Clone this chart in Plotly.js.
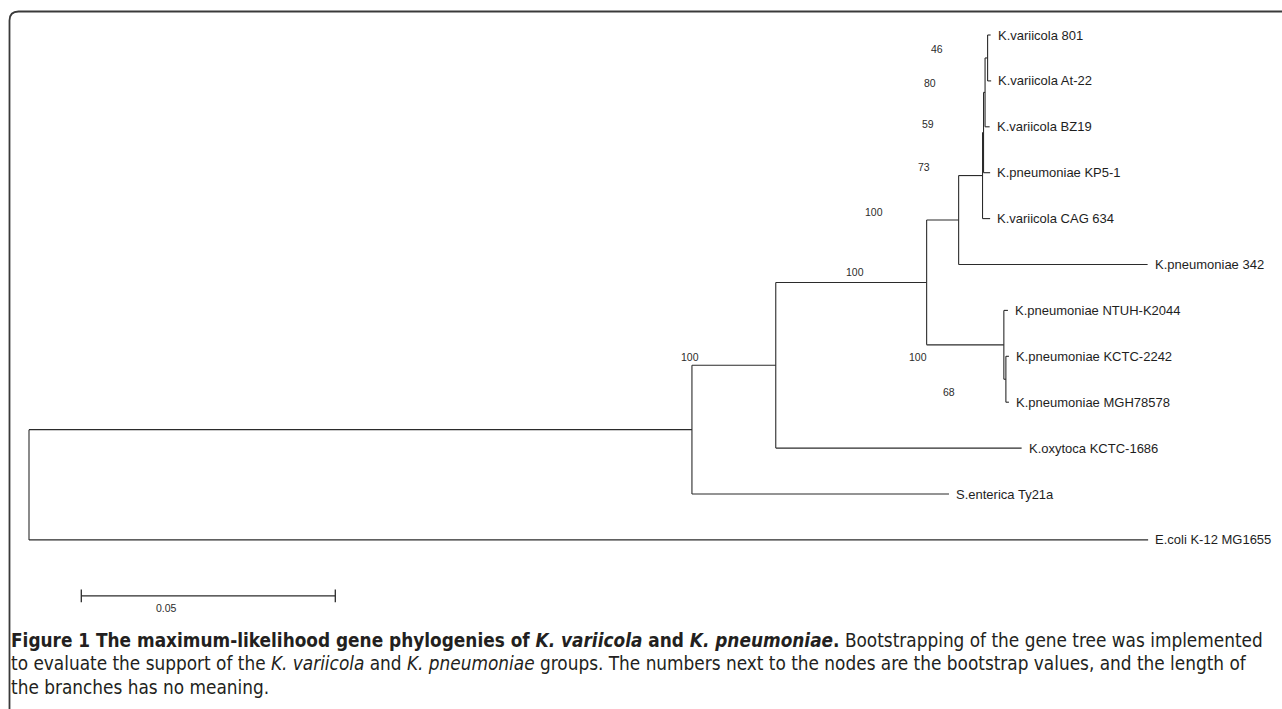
<!DOCTYPE html>
<html>
<head>
<meta charset="utf-8">
<script src="https://cdn.plot.ly/plotly-3.0.1.min.js"></script>
<style>
  html, body { margin: 0; padding: 0; background: #ffffff; }
  #chart { width: 1282px; height: 709px; }
</style>
</head>
<body>
<div id="chart"></div>
<script>
// ---------------- DATA ----------------
// Tree nodes (children listed top-to-bottom by index order)
const nodeLabel = [
  '', '', 'E.coli K-12 MG1655', '', 'S.enterica Ty21a', '', 'K.oxytoca KCTC-1686',
  '', '', '', 'K.pneumoniae 342', '', 'K.variicola CAG 634', '', 'K.pneumoniae KP5-1',
  '', 'K.variicola BZ19', 'K.variicola 801', 'K.variicola At-22',
  'K.pneumoniae NTUH-K2044', '', 'K.pneumoniae KCTC-2242', 'K.pneumoniae MGH78578'
];
const nodeParent = [
  -1, 0, 0, 1, 1, 3, 3, 5, 5, 7, 7, 9, 9, 11, 11, 13, 13, 15, 15, 8, 8, 20, 20
];
const branchLength = [
  0, 0.1305, 0.2203, 0.0165, 0.0506, 0.0297, 0.0484, 0.0063, 0.0152, 0.0047, 0.0372,
  0.0002, 0.0015, 0.0003, 0.0013, 0.0005, 0.0009, 0.0006, 0.0007, 0.0008, 0.0004, 0.0006, 0.0006
];
const bootstrapValue = [
  null, null, null, 100, null, 100, null, 100, 100, 73, null,
  59, null, 80, null, 46, null, null, null, null, 68, null, null
];
const scaleBarLength = 0.05;
const scaleBarLabel = '0.05';

const captionLines = [
  '<b>Figure 1 The maximum-likelihood gene phylogenies of <i>K. variicola</i> and <i>K. pneumoniae</i>.</b> Bootstrapping of the gene tree was implemented',
  'to evaluate the support of the <i>K. variicola</i> and <i>K. pneumoniae</i> groups. The numbers next to the nodes are the bootstrap values, and the length of',
  'the branches has no meaning.'
];

// ---------------- LAYOUT CONSTANTS (pixels / styling) ----------------
const W = 1282, H = 709;
const PX_PER_UNIT = 5080;      // horizontal scale
const ROOT_PX = 29;            // x pixel of root
const ROW0_PX = 35, ROW_PX = 45.9;
// bootstrap label offsets (px) relative to node
const bsOffset = {3:[-86,-8], 5:[-72,-10], 7:[-85,-8], 8:[-86,12], 9:[-59,-9],
                  11:[-56,-9], 13:[-55,-9], 15:[-51,-9], 20:[-57,13]};

// ---------------- BUILD TREE GEOMETRY ----------------
const n = nodeLabel.length;
const children = Array.from({length:n}, () => []);
for (let i = 1; i < n; i++) children[nodeParent[i]].push(i);
const xPos = new Array(n).fill(0);
const yPos = new Array(n).fill(0);
let leafCounter = 0;
function walk(i, d) {
  xPos[i] = d;
  if (children[i].length === 0) { yPos[i] = leafCounter++; return; }
  children[i].forEach(c => walk(c, d + branchLength[c]));
  const ch = children[i];
  yPos[i] = (yPos[ch[0]] + yPos[ch[ch.length-1]]) / 2;
}
walk(0, 0);
const nLeaves = leafCounter;

const lx = [], ly = [];
for (let i = 1; i < n; i++) {
  const p = nodeParent[i];
  lx.push(xPos[p], xPos[i], null); ly.push(yPos[i], yPos[i], null);
}
for (let i = 0; i < n; i++) {
  const ch = children[i];
  if (ch.length) {
    lx.push(xPos[i], xPos[i], null);
    ly.push(yPos[ch[0]], yPos[ch[ch.length-1]], null);
  }
}

const xMin = -ROOT_PX / PX_PER_UNIT;
const xMax = xMin + W / PX_PER_UNIT;
const yTop = -ROW0_PX / ROW_PX;
const yBot = yTop + H / ROW_PX;

// scale bar
const sbX0 = (81.3 - ROOT_PX) / PX_PER_UNIT;
const sbRow = nLeaves - 1 + (596 - 540) / ROW_PX;

const traces = [
  { x: lx, y: ly, mode: 'lines', type: 'scatter', hoverinfo: 'skip',
    line: { color: '#2b2b2b', width: 1.1 }, showlegend: false },
  { x: [sbX0, sbX0 + scaleBarLength], y: [sbRow, sbRow], mode: 'lines+markers', type: 'scatter',
    hoverinfo: 'skip', showlegend: false,
    line: { color: '#2b2b2b', width: 1.3 },
    marker: { symbol: 'line-ns-open', size: 9, line: { color: '#2b2b2b', width: 1.3 } } }
];

const annotations = [];
const tipFont = { family: 'Liberation Sans, Arial, Helvetica, sans-serif', size: 13, color: '#1e1e1e' };
for (let i = 0; i < n; i++) {
  if (children[i].length === 0) {
    annotations.push({ x: xPos[i], y: yPos[i], xref: 'x', yref: 'y', text: nodeLabel[i],
      showarrow: false, xanchor: 'left', yanchor: 'middle', xshift: 6, borderpad: 0, font: tipFont });
  }
  if (bootstrapValue[i] !== null) {
    const off = bsOffset[i] || [-50, -9];
    annotations.push({ x: xPos[i], y: yPos[i], xref: 'x', yref: 'y', text: String(bootstrapValue[i]),
      showarrow: false, xanchor: 'center', yanchor: 'middle', xshift: off[0], yshift: -off[1],
      borderpad: 0, font: { family: 'Liberation Sans, Arial, sans-serif', size: 10.5, color: '#2b2b2b' } });
  }
}
annotations.push({ x: sbX0, y: sbRow, xref: 'x', yref: 'y', text: scaleBarLabel, showarrow: false,
  xanchor: 'center', yanchor: 'middle', xshift: 85.4, yshift: -12, borderpad: 0,
  font: { family: 'Liberation Sans, Arial, sans-serif', size: 10.5, color: '#2b2b2b' } });

// caption font size fitted to the line width of the figure
const capFamily = '"Liberation Sans Narrow", "DejaVu Sans Condensed", "Arial Narrow", sans-serif';
function measureHtml(html, size) {
  const c = document.createElement('canvas').getContext('2d');
  let w = 0; let bold = false, ital = false;
  const parts = html.split(/(<\/?[bi]>)/);
  parts.forEach(p => {
    if (p === '<b>') bold = true; else if (p === '</b>') bold = false;
    else if (p === '<i>') ital = true; else if (p === '</i>') ital = false;
    else if (p) {
      c.font = (ital ? 'italic ' : '') + (bold ? 'bold ' : '') + size + 'px ' + capFamily;
      w += c.measureText(p).width;
    }
  });
  return w;
}
const capTarget = 1253;
const w100 = measureHtml(captionLines[0], 100);
const capSize = Math.min(22, 100 * capTarget / w100);
const capY = [640, 663.5, 687];
captionLines.forEach((t, k) => {
  annotations.push({ x: 10 / W, y: 1 - capY[k] / H, xref: 'paper', yref: 'paper', text: t,
    showarrow: false, xanchor: 'left', yanchor: 'middle', borderpad: 0,
    font: { family: capFamily, size: capSize, color: '#231f20' } });
});

// frame with rounded top-left corner
const fx = 9.5 / W, fy = 1 - 11.5 / H, rx = 9 / W, ry = 9 / H;
const framePath = `M ${fx},0 L ${fx},${fy - ry} Q ${fx},${fy} ${fx + rx},${fy} L 1,${fy}`;

const layout = {
  width: W, height: H,
  margin: { l: 0, r: 0, t: 0, b: 0, pad: 0 },
  paper_bgcolor: '#ffffff', plot_bgcolor: '#ffffff',
  xaxis: { range: [xMin, xMax], visible: false, fixedrange: true },
  yaxis: { range: [yBot, yTop], visible: false, fixedrange: true },
  showlegend: false,
  annotations: annotations,
  shapes: [{ type: 'path', xref: 'paper', yref: 'paper', path: framePath,
    line: { color: '#3a3a3a', width: 1.8 } }]
};

Plotly.newPlot('chart', traces, layout, { displayModeBar: false, staticPlot: true });
</script>
</body>
</html>
